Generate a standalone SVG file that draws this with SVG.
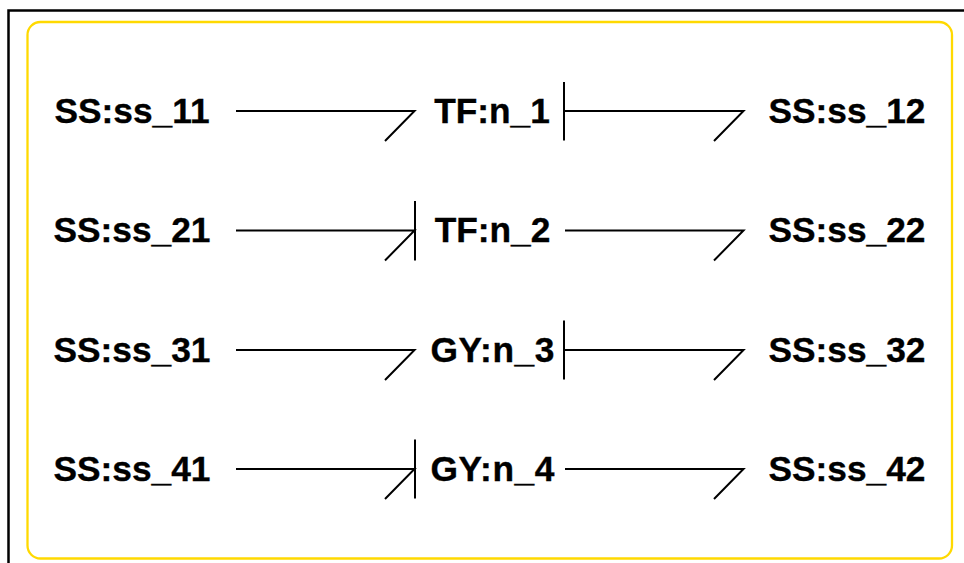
<svg xmlns="http://www.w3.org/2000/svg" width="964" height="563" viewBox="0 0 964 563">
<style>
text{font-family:"Liberation Sans",Arial,sans-serif;font-weight:700;font-size:35.300px;fill:#000;stroke:#000;stroke-width:.35;text-anchor:middle}
.c{fill:none;stroke:#000;stroke-width:2}
</style>
<rect width="964" height="563" fill="#fff"/>
<path d="M8.500 563V10.500H964" fill="none" stroke="#000" stroke-width="2.500"/>
<rect x="27.500" y="22" width="924.500" height="536.500" rx="13" fill="none" stroke="#ffd900" stroke-width="2.300"/>
<g id="nodes">
<g id="ss_11"><text x="132" y="123">SS:ss_11</text></g>
<g id="n_1"><text x="492" y="123">TF:n_1</text></g>
<g id="ss_12"><text x="847" y="123">SS:ss_12</text></g>
<g id="ss_21"><text x="132" y="242">SS:ss_21</text></g>
<g id="n_2"><text x="492.500" y="242">TF:n_2</text></g>
<g id="ss_22"><text x="847" y="242">SS:ss_22</text></g>
<g id="ss_31"><text x="132" y="362">SS:ss_31</text></g>
<g id="n_3"><text x="492.500" y="362" textLength="124" lengthAdjust="spacing">GY:n_3</text></g>
<g id="ss_32"><text x="847" y="362">SS:ss_32</text></g>
<g id="ss_41"><text x="132" y="481">SS:ss_41</text></g>
<g id="n_4"><text x="492.500" y="481" textLength="124" lengthAdjust="spacing">GY:n_4</text></g>
<g id="ss_42"><text x="847" y="481">SS:ss_42</text></g>
</g>
<g id="connectors" class="c">
<path d="M236 111H414.500L385 141"/>
<path d="M564 82V140.500M565 111H743.500L714 141"/>
<path d="M236 230.500H414.500L385 260.500M415 201V260.500"/>
<path d="M565 230.500H743.500L714 260.500"/>
<path d="M236 350H414.500L385 380"/>
<path d="M564 320.500V379.500M565 350H743.500L714 380"/>
<path d="M236 469H414.500L385 499M415 439.500V498.500"/>
<path d="M565 469H743.500L714 499"/>
</g>
</svg>
